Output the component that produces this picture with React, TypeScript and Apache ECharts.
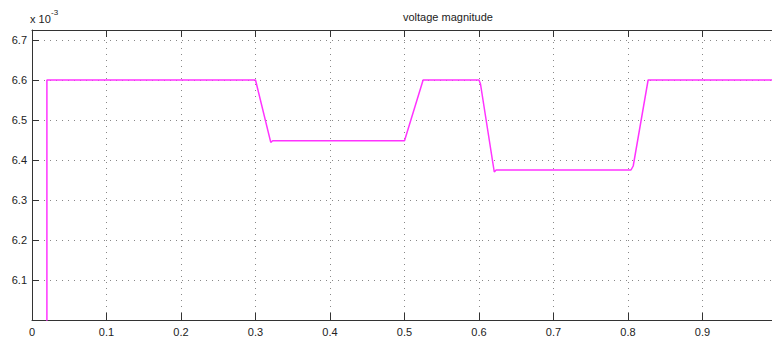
import React, { useEffect, useRef } from "react";
import * as echarts from "echarts";

const timeValues = [0, 0.02, 0.02, 0.3, 0.3205, 0.323, 0.5, 0.525, 0.6, 0.602, 0.6205, 0.623, 0.804, 0.807, 0.827, 1.0];
const voltageValues = [0, 0, 6.6, 6.6, 6.444, 6.448, 6.448, 6.6, 6.6, 6.59, 6.37, 6.375, 6.375, 6.385, 6.6, 6.6];
const xTickLabels = ["0", "0.1", "0.2", "0.3", "0.4", "0.5", "0.6", "0.7", "0.8", "0.9"];
const yTickLabels = ["6.1", "6.2", "6.3", "6.4", "6.5", "6.6", "6.7"];

const FONT = "'Liberation Sans', Arial, Helvetica, sans-serif";

export default function App() {
  const ref = useRef<HTMLDivElement>(null);
  useEffect(() => {
    if (!ref.current) return;
    const chart = echarts.init(ref.current, undefined, { renderer: "svg" });
    const data = timeValues.map((t, i) => [t, voltageValues[i]]);
    const fmtX = (v: number) => {
      const s = String(Math.round(v * 10) / 10);
      return xTickLabels.includes(s) && Math.abs(v * 10 - Math.round(v * 10)) < 1e-6 ? s : "";
    };
    const fmtY = (v: number) => {
      const s = (Math.round(v * 10) / 10).toFixed(1);
      return yTickLabels.includes(s) && Math.abs(v * 10 - Math.round(v * 10)) < 1e-6 ? s : "";
    };
    const splitLine = { show: true, lineStyle: { color: "#888", width: 1, type: [1, 5] as any } };
    chart.setOption({
      animation: false,
      backgroundColor: "#fff",
      grid: { left: 32, top: 30, width: 745, height: 290, show: false },
      graphic: [
        { type: "text", left: 403, top: 11, style: { text: "voltage magnitude", font: `11px ${FONT}`, fill: "#222", textAlign: "center" } },
        { type: "text", left: 30, top: 13, style: { text: "x 10", font: `11px ${FONT}`, fill: "#222" } },
        { type: "text", left: 51, top: 8, style: { text: "-3", font: `8px ${FONT}`, fill: "#222" } },
      ],
      xAxis: [
        {
          type: "value", min: 0, max: 1, interval: 0.1, position: "bottom",
          axisLine: { show: true, lineStyle: { color: "#333", width: 1 } },
          axisTick: { show: true, inside: true, length: 7, lineStyle: { color: "#333" } },
          axisLabel: { show: true, formatter: fmtX, margin: 6, color: "#222", fontSize: 11, fontFamily: FONT, showMaxLabel: false },
          splitLine,
        },
        {
          type: "value", min: 0, max: 1, interval: 0.1, position: "top",
          axisLine: { show: true, lineStyle: { color: "#333", width: 1 } },
          axisTick: { show: true, inside: true, length: 7, lineStyle: { color: "#333" } },
          axisLabel: { show: false },
          splitLine: { show: false },
        },
      ],
      yAxis: {
        type: "value", min: 6.0, max: 6.725, interval: 0.1,
        axisLine: { show: true, lineStyle: { color: "#333", width: 1 } },
        axisTick: { show: true, inside: true, length: 7, lineStyle: { color: "#333" } },
        axisLabel: { show: true, formatter: fmtY, margin: 5, color: "#222", fontSize: 11, fontFamily: FONT, showMinLabel: false, showMaxLabel: false },
        splitLine,
      },
      series: [
        {
          type: "line", data, xAxisIndex: 0, showSymbol: false, symbol: "none", clip: true,
          lineStyle: { color: "#ff33ff", width: 1.5 },
        },
      ],
    });
    return () => chart.dispose();
  }, []);
  return <div ref={ref} style={{ position: "fixed", left: 0, top: 0, width: 780, height: 337 }} />;
}
